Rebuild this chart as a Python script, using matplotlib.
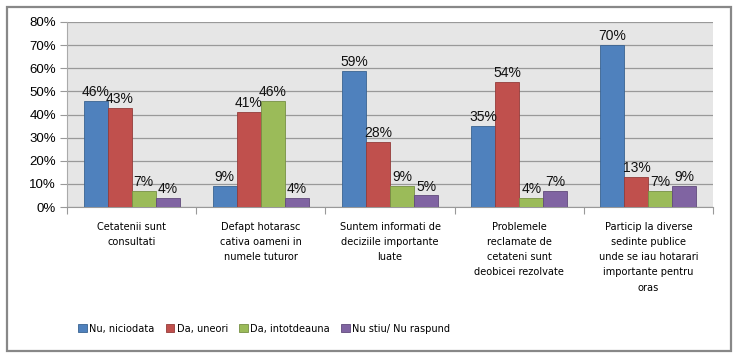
import matplotlib
matplotlib.use("Agg")
import matplotlib.pyplot as plt
import numpy as np
from matplotlib.patches import Rectangle, Patch
from matplotlib import font_manager as fm

categories = [
    "Cetatenii sunt\nconsultati",
    "Defapt hotarasc\ncativa oameni in\nnumele tuturor",
    "Suntem informati de\ndeciziile importante\nluate",
    "Problemele\nreclamate de\ncetateni sunt\ndeobicei rezolvate",
    "Particip la diverse\nsedinte publice\nunde se iau hotarari\nimportante pentru\noras",
]
series_names = ["Nu, niciodata", "Da, uneori", "Da, intotdeauna", "Nu stiu/ Nu raspund"]
nu_niciodata = [46, 9, 59, 35, 70]
da_uneori = [43, 41, 28, 54, 13]
da_intotdeauna = [7, 46, 9, 4, 7]
nu_stiu = [4, 4, 5, 7, 9]
yticks = [0, 10, 20, 30, 40, 50, 60, 70, 80]

series = [nu_niciodata, da_uneori, da_intotdeauna, nu_stiu]
colors = ["#4F81BD", "#C0504D", "#9BBB59", "#8064A2"]
edges = ["#3A6391", "#943C3A", "#779044", "#614B7C"]

plt.rcParams['font.family'] = ['Liberation Sans', 'DejaVu Sans']

# condensed font for category / legend text if available
cond = None
for f in fm.fontManager.ttflist:
    if f.name in ("Liberation Sans Narrow",) and f.weight in (400, "normal") and f.style == "normal":
        cond = fm.FontProperties(fname=f.fname); break
if cond is None:
    for f in fm.fontManager.ttflist:
        if f.name == "DejaVu Sans" and "Condensed" in f.fname and "Bold" not in f.fname and "Oblique" not in f.fname:
            cond = fm.FontProperties(fname=f.fname); break
if cond is None:
    cond = fm.FontProperties(family="Liberation Sans")
csize = 7.8
cond.set_size(csize)

fig = plt.figure(figsize=(7.38, 3.58), dpi=100)
ax = fig.add_axes([67/738, 1-207/358, (713-67)/738, (207-22)/358])
ax.set_facecolor("#E6E6E6")

x = np.arange(len(categories))
w = 0.186
for i, (vals, c, e) in enumerate(zip(series, colors, edges)):
    pos = x + (i - 1.5) * w
    ax.bar(pos, vals, width=w, color=c, edgecolor=e, linewidth=0.6, zorder=3, label=series_names[i])
    for p, v in zip(pos, vals):
        ax.text(p, v + 0.8, f"{v}%", ha="center", va="bottom", fontsize=10,
                color="#111111", zorder=4)

ax.set_xlim(-0.5, len(categories) - 0.5)
ax.set_ylim(0, 80)
ax.set_yticks(yticks)
ax.set_yticklabels([f"{t}%" for t in yticks], fontsize=9.5)
ax.yaxis.grid(True, color="#999999", linewidth=0.9, zorder=0)
ax.set_axisbelow(True)
ax.tick_params(axis='y', length=5, color="#999999", pad=3)

ax.set_xticks(np.arange(-0.5, len(categories) + 0.5, 1.0))
ax.set_xticklabels([])
ax.tick_params(axis='x', length=5, color="#999999", direction='out')
for xi, lab in zip(x, categories):
    ax.text(xi, -6.3, lab, ha="center", va="top", fontproperties=cond,
            linespacing=1.66, transform=ax.transData, clip_on=False)

for s in ["top", "right"]:
    ax.spines[s].set_visible(False)
ax.spines["left"].set_color("#AAAAAA")
ax.spines["bottom"].set_color("#999999")

handles = [Patch(facecolor=c, edgecolor=e, linewidth=0.6) for c, e in zip(colors, edges)]
fig.legend(handles, series_names, loc="center", bbox_to_anchor=(0.358, 1-329/358),
           ncol=4, frameon=False, prop=cond, handlelength=0.8, handleheight=0.8,
           handletextpad=0.25, columnspacing=1.0)

fig.patches.append(Rectangle((7/738, 1-351/358), (731-7)/738, (351-7)/358,
                             transform=fig.transFigure, fill=False,
                             edgecolor="#888888", linewidth=1.6))

fig.savefig("out.png", dpi=100)
